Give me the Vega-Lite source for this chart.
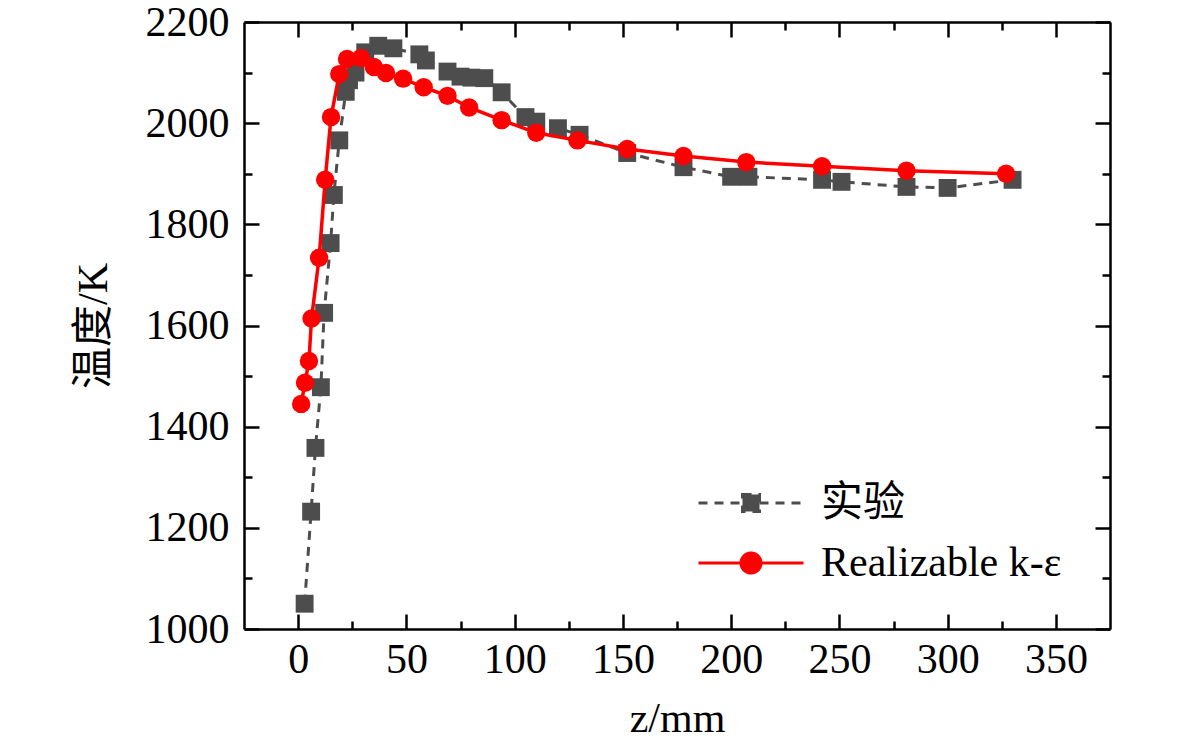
{
  "$schema": "https://vega.github.io/schema/vega-lite/v6.json",
  "description": "Temperature along z: experiment vs Realizable k-epsilon model",
  "autosize": {"type": "none"},
  "padding": {"left": 244, "top": 22, "right": 71, "bottom": 124},
  "width": 866,
  "height": 607,
  "background": "white",
  "data": {
    "values": [
      {"z": 3, "T": 1050, "series": "实验"},
      {"z": 6, "T": 1232, "series": "实验"},
      {"z": 8, "T": 1358, "series": "实验"},
      {"z": 10.5, "T": 1478, "series": "实验"},
      {"z": 12, "T": 1625, "series": "实验"},
      {"z": 15, "T": 1763, "series": "实验"},
      {"z": 16.5, "T": 1858, "series": "实验"},
      {"z": 19, "T": 1966, "series": "实验"},
      {"z": 22, "T": 2062, "series": "实验"},
      {"z": 23.5, "T": 2085, "series": "实验"},
      {"z": 26.5, "T": 2100, "series": "实验"},
      {"z": 31, "T": 2140, "series": "实验"},
      {"z": 37, "T": 2153, "series": "实验"},
      {"z": 44, "T": 2148, "series": "实验"},
      {"z": 56, "T": 2136, "series": "实验"},
      {"z": 59, "T": 2124, "series": "实验"},
      {"z": 69, "T": 2102, "series": "实验"},
      {"z": 75, "T": 2092, "series": "实验"},
      {"z": 80, "T": 2090, "series": "实验"},
      {"z": 86, "T": 2089, "series": "实验"},
      {"z": 94, "T": 2061, "series": "实验"},
      {"z": 105, "T": 2012, "series": "实验"},
      {"z": 110, "T": 2003, "series": "实验"},
      {"z": 120, "T": 1990, "series": "实验"},
      {"z": 130, "T": 1977, "series": "实验"},
      {"z": 152, "T": 1941, "series": "实验"},
      {"z": 178, "T": 1913, "series": "实验"},
      {"z": 200, "T": 1894, "series": "实验"},
      {"z": 208, "T": 1894, "series": "实验"},
      {"z": 242, "T": 1888, "series": "实验"},
      {"z": 251, "T": 1884, "series": "实验"},
      {"z": 281, "T": 1874, "series": "实验"},
      {"z": 300, "T": 1872, "series": "实验"},
      {"z": 330, "T": 1888, "series": "实验"},
      {"z": 1.4, "T": 1445, "series": "Realizable k-ε"},
      {"z": 3.2, "T": 1487, "series": "Realizable k-ε"},
      {"z": 5, "T": 1530, "series": "Realizable k-ε"},
      {"z": 6.2, "T": 1614, "series": "Realizable k-ε"},
      {"z": 9.7, "T": 1734, "series": "Realizable k-ε"},
      {"z": 12.5, "T": 1888, "series": "Realizable k-ε"},
      {"z": 15.2, "T": 2012, "series": "Realizable k-ε"},
      {"z": 19, "T": 2097, "series": "Realizable k-ε"},
      {"z": 22.6, "T": 2127, "series": "Realizable k-ε"},
      {"z": 29, "T": 2129, "series": "Realizable k-ε"},
      {"z": 35, "T": 2111, "series": "Realizable k-ε"},
      {"z": 40.6, "T": 2099, "series": "Realizable k-ε"},
      {"z": 48.5, "T": 2088, "series": "Realizable k-ε"},
      {"z": 58, "T": 2071, "series": "Realizable k-ε"},
      {"z": 69, "T": 2054, "series": "Realizable k-ε"},
      {"z": 79, "T": 2031, "series": "Realizable k-ε"},
      {"z": 94, "T": 2006, "series": "Realizable k-ε"},
      {"z": 110, "T": 1981, "series": "Realizable k-ε"},
      {"z": 129, "T": 1966, "series": "Realizable k-ε"},
      {"z": 152, "T": 1949, "series": "Realizable k-ε"},
      {"z": 178, "T": 1935, "series": "Realizable k-ε"},
      {"z": 207, "T": 1923, "series": "Realizable k-ε"},
      {"z": 242, "T": 1915, "series": "Realizable k-ε"},
      {"z": 281, "T": 1906, "series": "Realizable k-ε"},
      {"z": 327, "T": 1900, "series": "Realizable k-ε"}
    ]
  },
  "layer": [
    {
      "transform": [{"filter": "datum.series === '实验'"}],
      "mark": {"type": "line", "strokeWidth": 3, "strokeDash": [9, 7]},
      "encoding": {
        "x": {
          "field": "z", "type": "quantitative",
          "scale": {"domain": [-25, 375], "nice": false, "zero": false},
          "axis": {
            "orient": "bottom", "title": "z/mm", "format": "d",
            "values": [0, 50, 100, 150, 200, 250, 300, 350],
            "tickSize": -15, "labelPadding": 25, "titlePadding": 18
          }
        },
        "y": {
          "field": "T", "type": "quantitative",
          "scale": {"domain": [1000, 2200], "nice": false, "zero": false},
          "axis": {
            "orient": "left", "title": "温度/K", "format": "d",
            "values": [1000, 1200, 1400, 1600, 1800, 2000, 2200],
            "tickSize": -15, "labelPadding": 30, "titlePadding": 30
          }
        },
        "color": {
          "field": "series", "type": "nominal",
          "scale": {"domain": ["实验", "Realizable k-ε"], "range": ["#4d4d4d", "#ff0000"]},
          "legend": {
            "title": null,
            "orient": "none",
            "legendX": 486,
            "legendY": 460,
            "padding": 0,
            "symbolSize": 400,
            "labelOffset": 49,
            "labelLimit": 0,
            "rowPadding": 18,
            "labelFont": "Liberation Serif, Noto Sans CJK SC",
            "labelFontSize": 42,
            "labelColor": "black",
            "encode": {
              "symbols": {
                "update": {
                  "shape": {"signal": "datum.value === '实验' ? 'M -5.25 0 L -0.85 0 M 0.85 0 L 5.25 0 M -0.85 -0.85 L 0.85 -0.85 L 0.85 0.85 L -0.85 0.85 Z' : 'M -5.25 0 L 5.25 0 M 1 0 A 1 1 0 1 1 -1 0 A 1 1 0 1 1 1 0 Z'"},
                  "fill": {"signal": "datum.value === '实验' ? '#4d4d4d' : '#ff0000'"},
                  "stroke": {"signal": "datum.value === '实验' ? '#4d4d4d' : '#ff0000'"},
                  "strokeDash": {"signal": "datum.value === '实验' ? [9, 7] : [1, 0]"},
                  "strokeWidth": {"value": 3},
                  "opacity": {"value": 1}
                }
              }
            }
          }
        }
      }
    },
    {
      "transform": [{"filter": "datum.series === '实验'"}],
      "mark": {"type": "point", "shape": "square", "filled": true, "size": 320, "opacity": 1, "color": "#4d4d4d"},
      "encoding": {
        "x": {
          "field": "z", "type": "quantitative",
          "scale": {"domain": [-25, 375], "nice": false, "zero": false},
          "axis": {
            "orient": "bottom", "title": null, "labels": false, "domain": false,
            "values": [25, 75, 125, 175, 225, 275, 325], "tickSize": -8
          }
        },
        "y": {
          "field": "T", "type": "quantitative",
          "scale": {"domain": [1000, 2200], "nice": false, "zero": false},
          "axis": {
            "orient": "left", "title": null, "labels": false, "domain": false,
            "values": [1100, 1300, 1500, 1700, 1900, 2100], "tickSize": -8
          }
        }
      }
    },
    {
      "transform": [{"filter": "datum.series !== '实验'"}],
      "mark": {"type": "line", "strokeWidth": 3.5, "color": "#ff0000"},
      "encoding": {
        "x": {
          "field": "z", "type": "quantitative",
          "scale": {"domain": [-25, 375], "nice": false, "zero": false},
          "axis": {
            "orient": "top", "title": null, "labels": false,
            "values": [0, 50, 100, 150, 200, 250, 300, 350], "tickSize": -15
          }
        },
        "y": {
          "field": "T", "type": "quantitative",
          "scale": {"domain": [1000, 2200], "nice": false, "zero": false},
          "axis": {
            "orient": "right", "title": null, "labels": false,
            "values": [1000, 1200, 1400, 1600, 1800, 2000, 2200], "tickSize": -15
          }
        }
      }
    },
    {
      "transform": [{"filter": "datum.series !== '实验'"}],
      "mark": {"type": "point", "shape": "circle", "filled": true, "size": 340, "opacity": 1, "color": "#ff0000"},
      "encoding": {
        "x": {
          "field": "z", "type": "quantitative",
          "scale": {"domain": [-25, 375], "nice": false, "zero": false},
          "axis": {
            "orient": "top", "title": null, "labels": false, "domain": false,
            "values": [25, 75, 125, 175, 225, 275, 325], "tickSize": -8
          }
        },
        "y": {
          "field": "T", "type": "quantitative",
          "scale": {"domain": [1000, 2200], "nice": false, "zero": false},
          "axis": {
            "orient": "right", "title": null, "labels": false, "domain": false,
            "values": [1100, 1300, 1500, 1700, 1900, 2100], "tickSize": -8
          }
        }
      }
    }
  ],
  "resolve": {"axis": {"x": "independent", "y": "independent"}},
  "config": {
    "view": {"stroke": null},
    "axis": {
      "grid": false,
      "domainColor": "black",
      "domainWidth": 2.5,
      "tickColor": "black",
      "tickWidth": 2.5,
      "labelFont": "Liberation Serif",
      "labelFontSize": 42,
      "labelColor": "black",
      "titleFont": "Liberation Serif, Noto Sans CJK SC",
      "titleFontSize": 42,
      "titleFontWeight": "normal",
      "titleColor": "black"
    }
  }
}
